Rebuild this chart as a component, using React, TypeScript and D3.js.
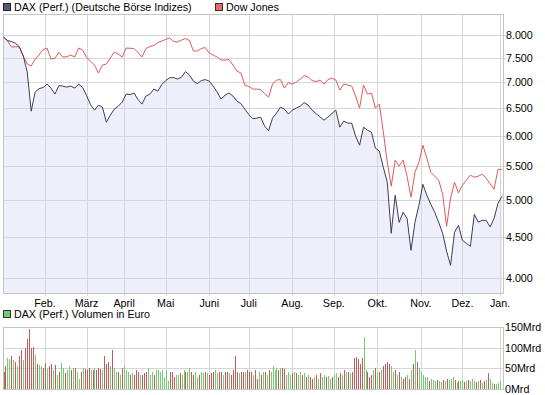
import React from "react";
import * as d3 from "d3";

const W = 545;
const H = 395;

// month gridlines (trading-day index of first day of month)
const months = ["Feb.", "März", "April", "Mai", "Juni", "Juli", "Aug.", "Sep.", "Okt.", "Nov.", "Dez.", "Jan."];
const monthStartDay = [21, 42, 61, 82, 104, 124, 146, 167, 189, 211, 232, 251];

const priceTicks = [4000, 4500, 5000, 5500, 6000, 6500, 7000, 7500, 8000];
const volumeTicks = [0, 50, 100, 150];

// closes, one value every 2nd trading day
const dax = [
  7954, 7875, 7853, 7813, 7737, 7534, 7198, 6438, 6798, 6866,
  6886, 6955, 6876, 6759, 6925, 6915, 6895, 6915, 6876, 6955,
  6886, 6730, 6559, 6457, 6550, 6512, 6239, 6365, 6475, 6531,
  6606, 6759, 6750, 6779, 6654, 6569, 6720, 6759, 6856, 6817,
  6945, 7025, 7081, 7085, 7055, 7095, 7208, 7136, 7014, 6965,
  7025, 7045, 7014, 6915, 6798, 6663, 6740, 6779, 6720, 6625,
  6578, 6475, 6375, 6302, 6311, 6329, 6169, 6090, 6311, 6402,
  6512, 6475, 6384, 6457, 6494, 6531, 6597, 6550, 6457, 6393,
  6334, 6275, 6329, 6393, 6457, 6151, 6257, 6222, 6222, 5995,
  5842, 6151, 6098, 6064, 5793, 5743, 5486, 5256, 4544, 5065,
  4689, 4825, 4743, 4328, 4689, 4922, 5226, 5065, 4936, 4825,
  4689, 4544, 4316, 4147, 4557, 4649, 4454, 4416, 4378, 4797,
  4689, 4715, 4715, 4627, 4743, 4951, 5050,
];

const dow = [
  7954, 7864, 7730, 7737, 7730, 7534, 7364, 7322, 7470, 7556,
  7675, 7708, 7470, 7485, 7610, 7513, 7519, 7556, 7513, 7708,
  7664, 7502, 7427, 7343, 7177, 7343, 7364, 7491, 7621, 7578,
  7513, 7708, 7702, 7697, 7610, 7513, 7697, 7741, 7764, 7830,
  7864, 7898, 7932, 7853, 7842, 7886, 7920, 7875, 7643, 7643,
  7697, 7719, 7599, 7556, 7513, 7449, 7449, 7459, 7343, 7218,
  7177, 6935, 6906, 6856, 6856, 6846, 6769, 6701, 6955, 7035,
  7045, 6876, 6985, 6955, 6995, 7055, 7126, 7095, 7025, 7005,
  7035, 6955, 7045, 7075, 7035, 6837, 6955, 6935, 6915, 6720,
  6494, 6935, 6759, 6779, 6494, 6569, 6069, 5566, 5197, 5598,
  5503, 5598, 5347, 5036, 5409, 5566, 5842, 5630, 5409, 5347,
  5287, 5079, 4635, 5022, 5256, 5100, 5211, 5287, 5363, 5332,
  5347, 5378, 5317, 5234, 5152, 5455, 5447,
];

// daily volume in Mrd Euro, one per trading day
const volume = [
  40, 55, 75, 72, 80, 70, 65, 55, 80, 95, 70, 100, 120, 145, 100, 102, 82, 60, 57, 55, 50,
  62, 48, 55, 60, 45, 58, 35, 42, 62, 50, 38, 45, 55, 45, 50, 52, 40, 25, 40, 50, 48,
  45, 50, 45, 45, 50, 45, 50, 48, 45, 80, 60, 65, 55, 95, 50, 40, 42, 35, 50,
  55, 45, 40, 35, 38, 35, 45, 40, 35, 35, 38, 42, 50, 35, 40, 35, 45, 45, 40, 45, 30,
  45, 20, 40, 40, 30, 35, 35, 38, 35, 45, 40, 40, 50, 40, 35, 40, 30, 35, 42, 38, 40, 38,
  35, 38, 40, 45, 38, 42, 40, 35, 40, 42, 38, 35, 45, 80, 40, 38, 42, 40, 40, 45,
  40, 42, 35, 45, 25, 40, 35, 40, 40, 35, 45, 40, 55, 45, 50, 45, 50, 50, 48, 35, 42, 35,
  38, 40, 38, 35, 40, 35, 38, 30, 35, 30, 25, 30, 35, 25, 38, 30, 35, 28, 32, 25, 30,
  35, 38, 30, 38, 35, 45, 40, 42, 38, 42, 75, 78, 72, 60, 75, 125, 45, 40, 30, 35, 45, 50,
  40, 40, 45, 55, 60, 65, 60, 55, 40, 45, 35, 40, 30, 25, 28, 35, 25, 45, 60, 95, 65, 50,
  40, 35, 30, 28, 20, 25, 22, 20, 22, 20, 18, 22, 20, 25, 22, 25, 28, 22, 15, 20, 20,
  22, 18, 20, 22, 20, 25, 20, 18, 20, 22, 15, 20, 22, 38, 25, 15, 12, 12, 15, 20,
];
// g = index up that day, r = down
const volumeDir = (
  "rrggrgrgrrgrrrrrgrggr" +
  "rgrrgrgrggrggrgrggrgr" +
  "rrgrgrrrgrrrgrggrgr" +
  "gggrgrrrgrrrgggrggggg" +
  "ggrrrggrggrggrrggrggrg" +
  "rrrggrrgrrgrrrrgrrgr" +
  "rrgrrgrgrgrggggrgrrggg" +
  "rgrggrgrgrrgrgrggrggr" +
  "ggrrgrgrgrrrrrrggrrrgr" +
  "grgrrrrggrgrgrrgrgrgrg" +
  "ggggrgggrggrgrgggrgrg" +
  "grgrgggrgrgrgrggrggg"
).split("");

const FONT = "'Liberation Sans', Arial, sans-serif";
const GRID = "#d6d6d6";
const FRAME = "#c4c4c4";

export default function App() {
  const left = 3;
  const right = 503;
  const top = 14;
  const bottom = 293;
  const vTop = 327;
  const vBottom = 389;

  const x = d3.scaleLinear().domain([0, 252]).range([3.5, 502]);
  const y = d3.scaleLog().domain([4000, 8000]).range([278, 35]);
  const yV = d3.scaleLinear().domain([0, 150]).range([vBottom, vTop]);

  const line = d3.line<number>().x((_, i) => x(i * 2)).y((d) => y(d));
  const area = d3
    .area<number>()
    .x((_, i) => x(i * 2))
    .y0(bottom)
    .y1((d) => y(d));

  return (
    <div style={{ position: "absolute", left: 0, top: 0 }}>
      <svg width={W} height={H} style={{ display: "block", background: "#fff" }} fontFamily={FONT} fontSize={10.7}>
        {/* legend */}
        <rect x={3.5} y={3.5} width={7} height={7} fill="#55597a" stroke="#222" />
        <text x={14} y={11}>DAX (Perf.) (Deutsche Börse Indizes)</text>
        <rect x={215.5} y={3.5} width={7} height={7} fill="#ea6a6a" stroke="#333" />
        <text x={226} y={11}>Dow Jones</text>

        {/* main area fill */}
        <path d={area(dax) || ""} fill="#efeffb" />

        {/* grid */}
        {priceTicks.map((t) => (
          <g key={t}>
            <line x1={left} x2={right + 3} y1={Math.round(y(t)) + 0.5} y2={Math.round(y(t)) + 0.5} stroke={GRID} />
            <text x={506} y={y(t) + 4}>{d3.format(",")(t).replace(",", ".")}</text>
          </g>
        ))}
        {monthStartDay.map((d, i) => (
          <g key={d}>
            <line x1={Math.round(x(d)) + 0.5} x2={Math.round(x(d)) + 0.5} y1={top} y2={bottom + 3} stroke={GRID} />
            <text x={x(d)} y={307} textAnchor="middle">{months[i]}</text>
            <line x1={Math.round(x(d)) + 0.5} x2={Math.round(x(d)) + 0.5} y1={vTop} y2={vBottom} stroke={GRID} />
          </g>
        ))}
        <rect x={left + 0.5} y={top + 0.5} width={right - left} height={bottom - top} fill="none" stroke={FRAME} />

        {/* lines */}
        <path d={line(dow) || ""} fill="none" stroke="#e05a5a" strokeWidth={1} />
        <path d={line(dax) || ""} fill="none" stroke="#3b3e56" strokeWidth={1} />

        {/* volume panel */}
        <rect x={3.5} y={310.5} width={7} height={7} fill="#6fcf6f" stroke="#333" />
        <text x={14} y={318}>DAX (Perf.) Volumen in Euro</text>
        {volumeTicks.map((t) => (
          <g key={t}>
            {t > 0 && t < 150 && (
              <line x1={left} x2={right} y1={Math.round(yV(t)) + 0.5} y2={Math.round(yV(t)) + 0.5} stroke={GRID} />
            )}
            <text x={505} y={yV(t) + 4}>{t}Mrd</text>
          </g>
        ))}
        {volume.map((v, i) => (
          <rect
            key={i}
            x={Math.round(x(i))}
            y={Math.round(yV(v))}
            width={1}
            height={vBottom - Math.round(yV(v))}
            fill={volumeDir[i] === "g" ? "#74cc74" : "#c45a5a"}
          />
        ))}
        <rect x={left + 0.5} y={vTop + 0.5} width={right - left} height={vBottom - vTop} fill="none" stroke={FRAME} />
      </svg>
    </div>
  );
}
